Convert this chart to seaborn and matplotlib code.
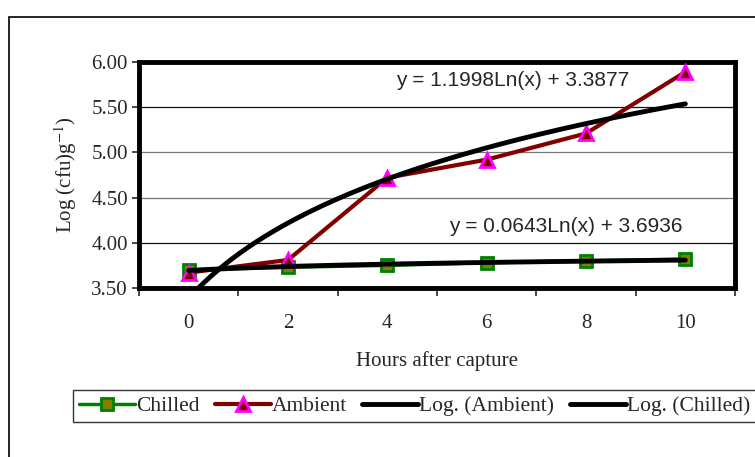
import numpy as np
import pandas as pd
import matplotlib.pyplot as plt
import seaborn as sns
from matplotlib.lines import Line2D
from matplotlib.patches import Rectangle

# Data
hours = ['0', '2', '4', '6', '8', '10']
chilled = [3.70, 3.73, 3.75, 3.78, 3.80, 3.82]
ambient = [3.67, 3.81, 4.72, 4.92, 5.21, 5.89]
# Excel log trendlines (coefficients shown on the chart)
amb_fit = (1.1998, 3.3877)
chi_fit = (0.0643, 3.6936)

sns.set_style('white')
plt.rcParams['font.family'] = ['Liberation Serif', 'DejaVu Serif']
plt.rcParams['mathtext.fontset'] = 'stix'

pos = np.arange(len(hours))
df = pd.DataFrame({'pos': pos, 'Chilled': chilled, 'Ambient': ambient})

fig = plt.figure(figsize=(7.55, 4.57), dpi=100)
ax = fig.add_axes([0.1841, 0.3698, 0.7894, 0.4945])

# outer chart border
fig.patches.append(Rectangle((9 / 755, -0.1), 1.2, 1 - 17 / 457 + 0.1, transform=fig.transFigure,
                             fill=False, edgecolor='black', linewidth=1.2))

for v, c in [(4.0, '#111111'), (4.5, '#777777'), (5.0, '#777777'), (5.5, '#111111')]:
    ax.axhline(v, color=c, lw=0.9, zorder=0)

sns.lineplot(data=df, x='pos', y='Chilled', ax=ax, color='#008000', lw=2.5,
             marker='s', markersize=9, markerfacecolor='#808000', markeredgecolor='#008000',
             markeredgewidth=2, zorder=3)
sns.lineplot(data=df, x='pos', y='Ambient', ax=ax, color='#800000', lw=3,
             marker='^', markersize=10.5, markerfacecolor='#800000', markeredgecolor='#ff00ff',
             markeredgewidth=2, zorder=4)

# trendlines in Excel category index (1..6)
xi = np.linspace(1, 6, 200)
tr = pd.DataFrame({'pos': xi - 1,
                   'amb': amb_fit[0] * np.log(xi) + amb_fit[1],
                   'chi': chi_fit[0] * np.log(xi) + chi_fit[1]})
sns.lineplot(data=tr, x='pos', y='amb', ax=ax, color='black', lw=3.5, zorder=5)
sns.lineplot(data=tr, x='pos', y='chi', ax=ax, color='black', lw=3.5, zorder=5)

ax.text(3.26, 5.79, 'y = 1.1998Ln(x) + 3.3877', ha='center', va='center',
        fontsize=15, family='Liberation Sans')
ax.text(3.80, 4.175, 'y = 0.0643Ln(x) + 3.6936', ha='center', va='center',
        fontsize=15, family='Liberation Sans')

ax.set_xlim(-0.5, 5.5)
ax.set_ylim(3.5, 6.0)
ax.set_yticks([3.5, 4.0, 4.5, 5.0, 5.5, 6.0])
ax.set_yticklabels([f'{v:.2f}' for v in [3.5, 4.0, 4.5, 5.0, 5.5, 6.0]], fontsize=15)
ax.set_xticks(pos)
ax.set_xticklabels(hours, fontsize=15)
ax.set_xticks(np.arange(-0.5, 6.0, 1.0), minor=True)
ax.tick_params(axis='x', which='major', length=0, pad=19)
ax.tick_params(axis='x', which='minor', length=6, width=1.2, direction='out', bottom=True)
ax.tick_params(axis='y', length=5, width=1.2, direction='out', left=True, pad=3)

for s in ax.spines.values():
    s.set_linewidth(3.5)
    s.set_color('black')

ax.set_xlabel('Hours after capture', fontsize=15, labelpad=13)
ax.set_ylabel('Log (cfu)g$^{-1}$)', fontsize=15)
ax.yaxis.set_label_coords(-0.1, 0.5)

handles = [
    Line2D([], [], color='#008000', lw=2.5, marker='s', markersize=9,
           markerfacecolor='#808000', markeredgecolor='#008000', markeredgewidth=2),
    Line2D([], [], color='#800000', lw=3, marker='^', markersize=10.5,
           markerfacecolor='#800000', markeredgecolor='#ff00ff', markeredgewidth=2),
    Line2D([], [], color='black', lw=3.5),
    Line2D([], [], color='black', lw=3.5),
]
leg = fig.legend(handles, ['Chilled', 'Ambient', 'Log. (Ambient)', 'Log. (Chilled)'],
                 loc='center left', bbox_to_anchor=(73 / 755, 1 - 406 / 457), ncol=4,
                 fontsize=15.5, frameon=True, fancybox=False, borderpad=0.3,
                 handlelength=2.6, handletextpad=0.05, columnspacing=0.7, borderaxespad=0)
leg.get_frame().set_edgecolor('black')
leg.get_frame().set_linewidth(1.0)

fig.savefig('out.png', dpi=100)
